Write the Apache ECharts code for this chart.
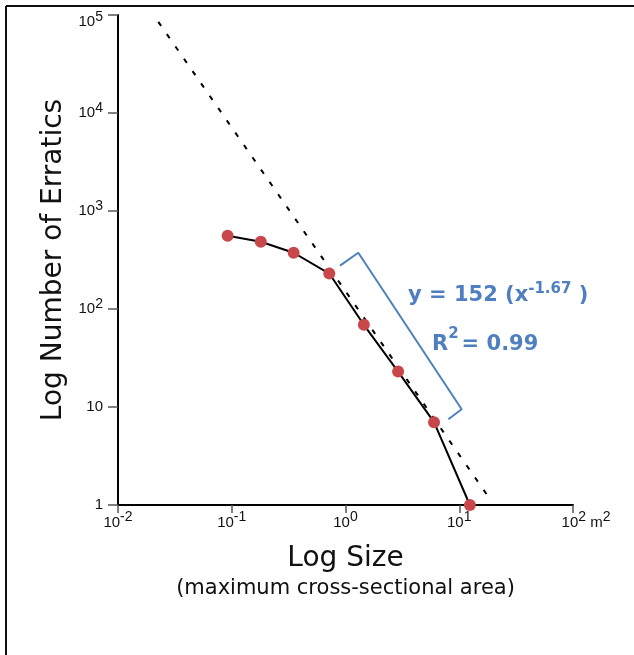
<!DOCTYPE html>
<html>
<head>
<meta charset="utf-8">
<script src="https://cdn.jsdelivr.net/npm/echarts@6/dist/echarts.min.js"></script>
<style>
  html, body { margin: 0; padding: 0; background: #fff; }
  #chart { width: 634px; height: 655px; }
</style>
</head>
<body>
<div id="chart"></div>
<script>
// Erratic boulders: size (maximum cross-sectional area, m²) vs number found
const sizes  = [0.092, 0.18, 0.35, 0.72, 1.45, 2.9, 6.0, 12.4];
const counts = [560, 485, 375, 230, 69, 23, 7, 1];

// Power-law fit y = a * x^b over the straight part of the curve
const fitCoef = 152;
const fitExp = -1.67;
const fitR2 = 0.99;
const fitRange = [0.0226, 18.6];

// Bracket marking the fitted points
const bracketX = [0.895, 1.296, 10.5, 8.02];
const bracketY = [277, 375, 9.47, 7.49];

// Tick labels (base and exponent)
const xTickBase = ['10', '10', '10', '10', '10'];
const xTickExp  = ['-2', '-1', '0', '1', '2'];
const xUnit = 'm';
const xUnitExp = '2';
const yTickBase = ['1', '10', '10', '10', '10', '10'];
const yTickExp  = ['', '', '2', '3', '4', '5'];

const TICK_FONT = '"Liberation Sans", Arial, Helvetica, sans-serif';
const TITLE_FONT = '"DejaVu Sans", Verdana, sans-serif';
const BLUE = '#4f7fc0';
const RED = '#c8474b';

const chart = echarts.init(document.getElementById('chart'), null, { renderer: 'canvas' });

const fitLine = fitRange.map(x => [x, fitCoef * Math.pow(x, fitExp)]);
const points = sizes.map((s, i) => [s, counts[i]]);
const bracket = bracketX.map((x, i) => [x, bracketY[i]]);

// superscripts: the exponent token gets bottom padding, which lifts it by half the padding
function tickRich() {
  return {
    b: { fontSize: 15, lineHeight: 15, fontFamily: TICK_FONT, color: '#111' },
    s: { fontSize: 14, lineHeight: 14, fontFamily: TICK_FONT, color: '#111', padding: [0, 0, 10, 0] },
    // top label sits a little below its tick so it stays inside the frame
    bt: { fontSize: 15, lineHeight: 15, fontFamily: TICK_FONT, color: '#111', padding: [14, 0, 0, 0] },
    st: { fontSize: 14, lineHeight: 14, fontFamily: TICK_FONT, color: '#111', padding: [14, 0, 10, 0] },
    // keeps the "10²" of the last label centred on its tick, with the unit hanging to the right
    p: { width: 26, fontSize: 15, lineHeight: 15 }
  };
}

function supText(base, exp, top) {
  const b = top ? 'bt' : 'b';
  const s = top ? 'st' : 's';
  return exp ? '{' + b + '|' + base + '}{' + s + '|' + exp + '}' : '{' + b + '|' + base + '}';
}

function eqRich(lift, gap) {
  return {
    b: { fontSize: 21, lineHeight: 21, fontWeight: 'bold', fontFamily: TITLE_FONT, fill: BLUE },
    s: { fontSize: 15, lineHeight: 15, fontWeight: 'bold', fontFamily: TITLE_FONT, fill: BLUE, padding: [0, gap, lift * 2, 0] }
  };
}

const option = {
  animation: false,
  backgroundColor: '#fff',
  grid: { left: 118, right: 61, top: 15, bottom: 150, containLabel: false, outerBoundsMode: 'none' },
  xAxis: {
    type: 'log',
    logBase: 10,
    min: 0.01,
    max: 100,
    name: '{t|Log Size}\n{u|(maximum cross-sectional area)}',
    nameLocation: 'middle',
    nameGap: 37,
    nameTextStyle: {
      rich: {
        t: { fontSize: 28, lineHeight: 34, fontFamily: TITLE_FONT, color: '#111' },
        u: { fontSize: 21, lineHeight: 26, fontFamily: TITLE_FONT, color: '#111' }
      }
    },
    axisLine: { onZero: false, lineStyle: { color: '#000', width: 2 } },
    axisTick: { show: true, inside: false, length: 8, lineStyle: { color: '#555', width: 1.5 } },
    splitLine: { show: false },
    axisLabel: {
      margin: 10,
      formatter: function (v) {
        const i = Math.round(Math.log10(v)) + 2;
        let t = supText(xTickBase[i], xTickExp[i], false);
        if (i === xTickBase.length - 1) t = '{p| }' + t + '{b| ' + xUnit + '}{s|' + xUnitExp + '}';
        return t;
      },
      rich: tickRich()
    }
  },
  yAxis: {
    type: 'log',
    logBase: 10,
    min: 1,
    max: 100000,
    name: 'Log Number of Erratics',
    nameLocation: 'middle',
    nameGap: 37,
    nameRotate: 90,
    nameTextStyle: { fontSize: 28, fontFamily: TITLE_FONT, color: '#111' },
    axisLine: { onZero: false, lineStyle: { color: '#000', width: 2 } },
    axisTick: { show: true, inside: false, length: 10, lineStyle: { color: '#555', width: 1.5 } },
    splitLine: { show: false },
    axisLabel: {
      margin: 15,
      formatter: function (v) {
        const i = Math.round(Math.log10(v));
        return supText(yTickBase[i], yTickExp[i], i === yTickBase.length - 1);
      },
      rich: tickRich()
    }
  },
  series: [
    {
      name: 'fit',
      type: 'line',
      data: fitLine,
      symbol: 'none',
      lineStyle: { color: '#000', width: 2, type: [5, 10] },
      z: 1
    },
    {
      name: 'bracket',
      type: 'line',
      data: bracket,
      symbol: 'none',
      lineStyle: { color: BLUE, width: 2 },
      z: 1
    },
    {
      name: 'curve',
      type: 'line',
      data: points,
      symbol: 'none',
      smooth: false,
      lineStyle: { color: '#000', width: 2 },
      z: 2
    },
    {
      name: 'erratics',
      type: 'scatter',
      data: points,
      symbol: 'circle',
      symbolSize: 12,
      itemStyle: { color: RED, opacity: 1 },
      z: 3
    }
  ],
  graphic: [
    { type: 'line', shape: { x1: 6, y1: 6, x2: 634, y2: 6 }, style: { stroke: '#111', lineWidth: 2 } },
    { type: 'line', shape: { x1: 6, y1: 6, x2: 6, y2: 655 }, style: { stroke: '#111', lineWidth: 2 } },
    {
      type: 'text',
      left: 408,
      top: 282,
      style: {
        text: '{b|y = ' + fitCoef + ' (x}{s|' + fitExp + '}{b| )}',
        rich: eqRich(6.5, 0)
      }
    },
    {
      type: 'text',
      left: 432,
      top: 327,
      style: {
        text: '{b|R}{s|2}{b|= ' + fitR2.toFixed(2) + '}',
        rich: eqRich(10.5, 3)
      }
    }
  ]
};

chart.setOption(option);
</script>
</body>
</html>
